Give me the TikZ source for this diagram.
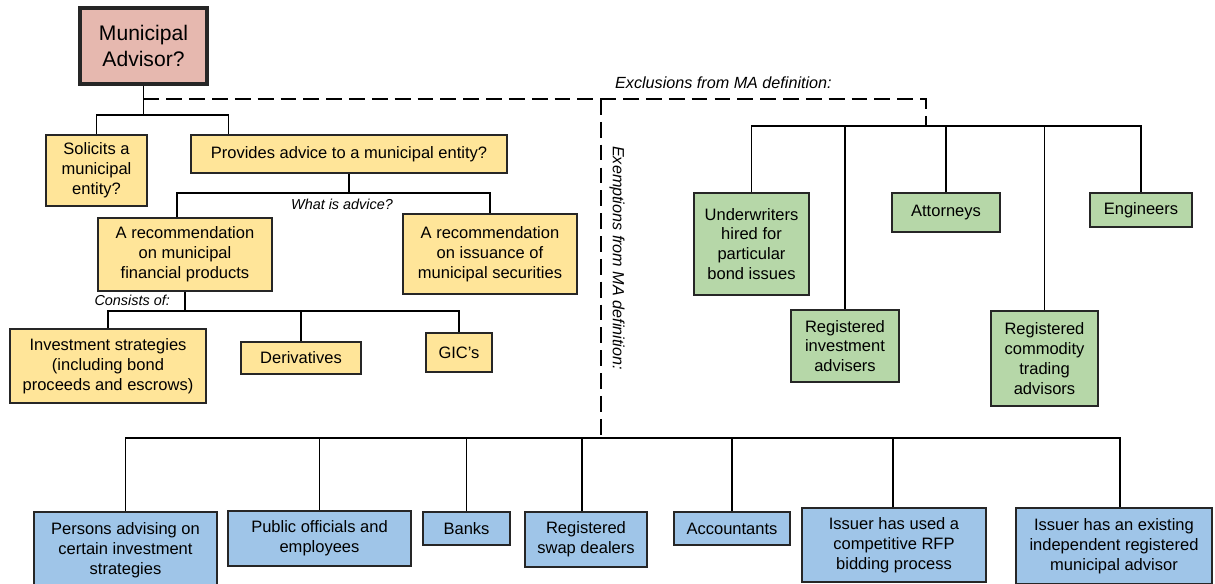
\documentclass[tikz,border=0pt]{standalone}
\usepackage{fontspec}
\setmainfont{Liberation Sans}
\definecolor{maroserose}{HTML}{E6B8AF}
\definecolor{advyellow}{HTML}{FFE599}
\definecolor{exgreen}{HTML}{B6D7A8}
\definecolor{exblue}{HTML}{9FC5E8}
\begin{document}
\begin{tikzpicture}[x=0.02cm, y=-0.02cm,
    box/.style={draw=black!85, line width=0.8pt, align=center, inner sep=0pt,
      font=\fontsize{9.4}{11.3}\selectfont},
    advice/.style={box, fill=advyellow},
    exclusion/.style={box, fill=exgreen},
    exemption/.style={box, fill=exblue},
    conn/.style={line width=1.1pt},
    exline/.style={line width=1.1pt, dash pattern=on 9pt off 4pt},
    note/.style={font=\fontsize{8.2}{10}\selectfont\itshape}]
  \useasboundingbox (0,0) rectangle (1215,584);

  % question
  \node[box, fill=maroserose, line width=1.8pt, minimum width=2.54cm, minimum height=1.52cm,
    font=\fontsize{12}{14.7}\selectfont] (ma) at (143.5,46) {Municipal\\Advisor?};

  % what counts as advice
  \node[advice, minimum width=2.02cm, minimum height=1.42cm] (solicit)  at (96.5,170.5) {Solicits a\\municipal\\entity?};
  \node[advice, minimum width=6.32cm, minimum height=0.76cm] (provides) at (349,154)    {Provides advice to a municipal entity?};
  \node[advice, minimum width=3.48cm, minimum height=1.46cm] (recfin)   at (185,254.5)  {A recommendation\\on municipal\\financial products};
  \node[advice, minimum width=3.48cm, minimum height=1.60cm] (recsec)   at (490,254)    {A recommendation\\on issuance of\\municipal securities};
  \node[advice, minimum width=3.92cm, minimum height=1.48cm] (invest)   at (108,366)    {Investment strategies\\(including bond\\proceeds and escrows)};
  \node[advice, minimum width=2.40cm, minimum height=0.64cm] (deriv)    at (301,358)    {Derivatives};
  \node[advice, minimum width=1.32cm, minimum height=0.78cm] (gic)      at (459,352.5)  {GIC's};

  % exclusions
  \node[exclusion, minimum width=2.30cm, minimum height=2.04cm] (under)    at (751.5,244)   {Underwriters\\hired for\\particular\\bond issues};
  \node[exclusion, minimum width=2.16cm, minimum height=1.44cm] (regadv)   at (845,346)     {Registered\\investment\\advisers};
  \node[exclusion, minimum width=2.16cm, minimum height=0.78cm] (attorney) at (946,212.5)   {Attorneys};
  \node[exclusion, minimum width=2.14cm, minimum height=1.90cm] (commod)   at (1044.5,358.5){Registered\\commodity\\trading\\advisors};
  \node[exclusion, minimum width=2.04cm, minimum height=0.68cm] (engineer) at (1141,210)    {Engineers};

  % exemptions
  \node[exemption, minimum width=3.66cm, minimum height=1.52cm] (persons)     at (125.5,550) {Persons advising on\\certain investment\\strategies};
  \node[exemption, minimum width=3.66cm, minimum height=1.10cm] (public)      at (319.5,538.5) {Public officials and\\employees};
  \node[exemption, minimum width=1.74cm, minimum height=0.66cm] (banks)       at (466.5,528.5) {Banks};
  \node[exemption, minimum width=2.44cm, minimum height=1.10cm] (swap)        at (586,539.5) {Registered\\swap dealers};
  \node[exemption, minimum width=2.32cm, minimum height=0.66cm] (accountants) at (732,528.5) {Accountants};
  \node[exemption, minimum width=3.68cm, minimum height=1.48cm] (rfp)         at (894,545)   {Issuer has used a\\competitive RFP\\bidding process};
  \node[exemption, minimum width=3.92cm, minimum height=1.52cm] (existing)    at (1114,546)  {Issuer has an existing\\independent registered\\municipal advisor};

  % bus points
  \coordinate (lb)    at (143.5,115);
  \coordinate (split) at (143.5,99);
  \coordinate (ab)    at (349,193);
  \coordinate (cb)    at (185,311);
  \coordinate (gb)    at (926,126);
  \coordinate (bb)    at (601,438);

  % advice tree
  \draw[conn] (ma) -- (lb);
  \draw[conn] (solicit.north) |- (lb) -| (228.5,0 |- provides.north);
  \draw[conn] (provides) -- (ab);
  \draw[conn] (177,0 |- recfin.north) |- (ab) -| (recsec.north);
  \draw[conn] (recfin) -- (cb);
  \draw[conn] (invest.north) |- (cb) -| (gic.north);
  \draw[conn] (deriv) -- (deriv |- cb);
  \node[note, below] (whatis) at (342,193) {What is advice?};
  \node[note, anchor=south east] (consists) at (176,312) {Consists of:};

  % exclusions and exemptions
  \draw[exline] (split) -| (gb);
  \draw[exline] (601,99) -- (bb);
  \draw[conn] (under.north) |- (gb) -| (engineer.north);
  \foreach \n in {regadv,attorney,commod}
    \draw[conn] (\n) -- (\n |- gb);
  \draw[conn] (persons.north) |- (bb) -| (1120,0 |- existing.north);
  \draw[conn] (public) -- (public |- bb);
  \draw[conn] (banks) -- (banks |- bb);
  \draw[conn] (582,0 |- swap.north) -- (582,0 |- bb);
  \draw[conn] (accountants) -- (accountants |- bb);
  \draw[conn] (893,0 |- rfp.north) -- (893,0 |- bb);
  \node[note, anchor=west, font=\fontsize{9.2}{11}\selectfont\itshape] (excl) at (609,83) {Exclusions from MA definition:};
  \node[note, rotate=-90, font=\fontsize{9.2}{11}\selectfont\itshape] (exem) at (617,258) {Exemptions from MA definition:};
\end{tikzpicture}
\end{document}
